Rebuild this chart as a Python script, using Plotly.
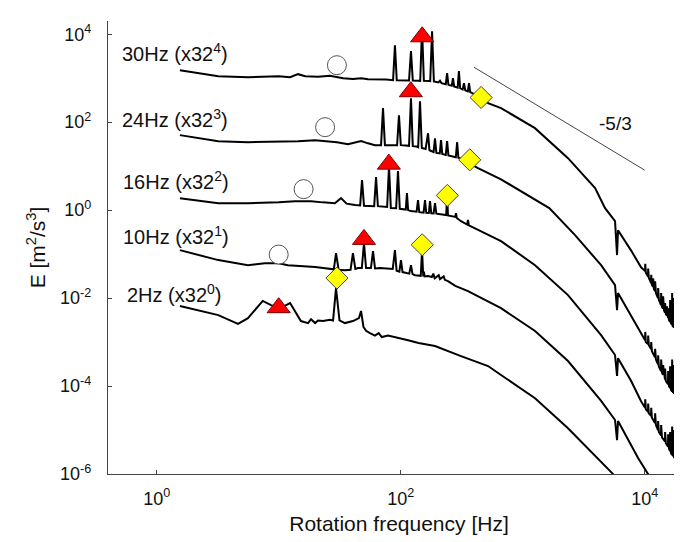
import plotly.graph_objects as go

# energy spectra as plotted (each already multiplied by 32^k, see labels)
f_30hz = [1.55, 3.2, 5.6, 8, 10, 12.4, 14.4, 16.5, 21, 26.3, 30, 33.7, 40.6, 47.3, 54, 65, 76,
          86.6, 89.7, 92.8, 110, 117, 121.4, 125.6, 140, 144.5, 149.6, 154.8, 170, 174.5, 180.7, 187,
          204, 210, 216, 234, 240, 246, 262, 268, 274, 293, 300, 307, 322, 330, 338, 355, 363, 371,
          456, 520, 664, 1260, 2350, 3920, 4730, 5710, 5930, 6040, 7740, 9330,
          10070, 10100, 10200, 10640, 10670, 10800, 11270, 11300, 11450, 11700, 11730, 11900,
          12140, 12170, 12350, 12850, 12880, 13050, 13600, 13630, 13850, 14120, 14150, 14400,
          14660, 14690, 14900, 15200, 15230, 15520, 15550, 15800, 16110, 16140, 16400,
          16740, 16770, 16900, 17060, 17090, 17400, 17430, 17720, 17750, 18050, 18080,
          18400, 18430, 18740, 18770, 19100, 19130, 19500, 19530, 19820, 19850, 20200, 20230,
          20590, 20620, 21000, 21030, 21380, 21410, 21700, 21730, 22000, 22030, 22300, 22330,
          22630, 22660, 23070, 23100, 23500]
e_30hz = [1520, 1110, 1054, 1080, 1110, 1054, 1233, 1110, 1080, 1140, 1054, 1000, 960, 1000, 949, 949, 930,
          901, 5620, 901, 890, 885, 4110, 880, 875, 870, 13700, 868, 860, 858, 11700, 840,
          800, 880, 770, 725, 1300, 705, 670, 1000, 650, 610, 1443, 590, 550, 770, 530, 500, 770, 480,
          360, 270, 208, 73, 15.2, 3.16, 1.11, 0.56, 0.095, 0.35, 0.12, 0.05,
          0.041, 0.06, 0.038, 0.031, 0.047, 0.029, 0.022, 0.034, 0.02, 0.018, 0.028, 0.016,
          0.0144, 0.024, 0.013, 0.010, 0.017, 0.0092, 0.0069, 0.013, 0.0063, 0.0058, 0.011, 0.0052,
          0.0047, 0.0077, 0.0043, 0.004, 0.0065, 0.0035, 0.0059, 0.0032, 0.0029, 0.009, 0.0027,
          0.0025, 0.013, 0.0024, 0.0022, 0.006, 0.0021, 0.01, 0.0021, 0.017, 0.0019, 0.008,
          0.0019, 0.012, 0.0019, 0.02, 0.0019, 0.009, 0.0018, 0.015, 0.0018, 0.056, 0.0018, 0.012,
          0.0018, 0.033, 0.0019, 0.01, 0.002, 0.02, 0.002, 0.014, 0.002, 0.009, 0.002, 0.025,
          0.0021, 0.035, 0.0021, 0.015, 0.0021]

f_24hz = [1.55, 3.2, 5.6, 10, 14.4, 19.9, 24, 26.8, 30, 37, 47.3, 54, 61.5,
          69, 71.6, 74.2, 85, 93.4, 96.8, 100.2, 110, 117, 121.4, 125.6, 135, 139, 143.9, 149,
          160, 167.5, 172, 186, 191, 196, 209, 214, 219, 234, 240, 246, 283, 290, 297,
          340, 363, 430, 664, 1650, 2685, 4390, 5710, 5930, 6040, 7740, 9330,
          10070, 10100, 10200, 10640, 10670, 10800, 11270, 11300, 11450, 12140, 12170, 12350,
          12850, 12880, 13050, 13600, 13630, 13850, 14120, 14150, 14400, 14660, 14690, 14900,
          15520, 15550, 15800, 16110, 16140, 16400, 16740, 16770, 17060, 17090, 17400, 17430,
          17720, 17750, 18050, 18080, 18400, 18430, 18740, 18770, 19100, 19130, 19500, 19530,
          19820, 19850, 20200, 20230, 20590, 20620, 21000, 21030, 21380, 21410, 21700, 21730,
          22000, 22030, 22300, 22330, 22630, 22660, 23070, 23100, 23500]
e_24hz = [50.7, 37, 35, 36, 37, 39, 37, 37, 35, 31.6, 37, 33, 30,
          30, 208, 30, 30, 30, 144, 30, 29.5, 29, 351, 28.5, 28, 27, 300, 26,
          24.5, 56, 23, 21, 43, 20, 19.5, 39, 19, 18, 37, 17.5, 16, 35, 15.5,
          13.5, 11.7, 9.0, 5.0, 1.11, 0.27, 0.056, 0.0197, 0.0053, 0.013, 0.0039, 0.0016,
          0.0011, 0.0017, 0.001, 0.0009, 0.0014, 0.00085, 0.0007, 0.001, 0.00062, 0.00045, 0.0007, 0.0004,
          0.00031, 0.0005, 0.00028, 0.00022, 0.0004, 0.0002, 0.00018, 0.0003, 0.00016, 0.00014, 0.00025, 0.00013,
          0.00011, 0.00022, 0.0001, 9e-5, 0.00028, 8.3e-5, 7.5e-5, 0.0004, 7e-5, 0.00019, 6.6e-5, 0.0003,
          6.3e-5, 0.0005, 6.1e-5, 0.00025, 6e-5, 0.00037, 6e-5, 0.0006, 5.9e-5, 0.00028, 5.9e-5, 0.00045,
          5.9e-5, 0.0017, 5.9e-5, 0.00037, 5.9e-5, 0.001, 6e-5, 0.0003, 6e-5, 0.0006, 6e-5, 0.00044,
          6e-5, 0.00028, 6.1e-5, 0.0008, 6.2e-5, 0.0011, 6.3e-5, 0.00047, 6.5e-5]

f_16hz = [1.55, 3.2, 5.6, 10, 13.6, 16, 18.4, 23, 28.9, 32.4, 36, 42.2,
          46.5, 48.2, 50, 60.6, 62.8, 65, 77.4, 80.2, 83, 91.7, 95, 98.3,
          105, 110, 112.5, 115, 121, 135, 138.6, 142, 154, 158.2, 162, 170, 173.8, 178,
          186, 191, 196, 215, 236, 240, 244, 280, 284, 288, 312, 350, 356, 362,
          520, 664, 1262, 2350, 4390, 5710, 5930, 6040, 7740, 9330,
          10070, 10100, 10200, 10640, 10670, 10800, 11270, 11300, 11450, 12140, 12170, 12350,
          12850, 12880, 13050, 13600, 13630, 13850, 14660, 14690, 14900, 15520, 15550, 15800,
          16110, 16140, 16400, 16740, 16770, 17060, 17090, 17400, 17430, 17720, 17750, 18050, 18080,
          18400, 18430, 18740, 18770, 19100, 19130, 19500, 19530, 19820, 19850, 20200, 20230,
          20590, 20620, 21000, 21030, 21380, 21410, 21700, 21730, 22000, 22030, 22300, 22330,
          22630, 22660, 23070, 23100, 23500]
e_16hz = [1.87, 1.44, 1.44, 1.5, 1.6, 1.6, 1.6, 1.5, 1.44, 1.87, 1.4, 1.3,
          1.28, 4.81, 1.26, 1.23, 5.62, 1.23, 1.18, 10.0, 1.12, 1.1, 7.7, 1.07,
          1.05, 1.03, 2.43, 1.0, 0.95, 0.92, 1.69, 0.9, 0.88, 1.69, 0.87, 0.86, 1.6, 0.85,
          0.84, 1.44, 0.83, 0.8, 0.77, 2.2, 0.76, 0.7, 0.85, 0.66, 0.56, 0.47, 0.6, 0.45,
          0.27, 0.197, 0.056, 0.0117, 0.00144, 0.000507, 0.00017, 0.00043, 0.00013, 4.5e-5,
          3.2e-5, 5e-5, 3e-5, 2.6e-5, 4e-5, 2.4e-5, 2.1e-5, 3.2e-5, 1.9e-5, 1.45e-5, 2.4e-5, 1.3e-5,
          1.0e-5, 1.6e-5, 9e-6, 7.5e-6, 1.3e-5, 6.8e-6, 5.5e-6, 9e-6, 5e-6, 4.2e-6, 8e-6, 3.8e-6,
          3.3e-6, 9e-6, 3e-6, 2.7e-6, 1.2e-5, 2.5e-6, 7e-6, 2.3e-6, 1e-5, 2.2e-6, 1.5e-5, 2e-6, 8e-6,
          2e-6, 1.1e-5, 1.9e-6, 1.8e-5, 1.9e-6, 8e-6, 1.8e-6, 1.4e-5, 1.8e-6, 4.6e-5, 6e-7, 1.1e-5,
          1.8e-6, 3.2e-5, 1.9e-6, 9e-6, 1.9e-6, 2e-5, 5e-7, 1.4e-5, 1.9e-6, 9e-6, 2e-6, 2.5e-5,
          2e-6, 3.7e-5, 2e-6, 1.5e-5, 2e-6]

f_10hz = [1.55, 3.2, 5.6, 7.7, 10, 11.9, 19.9, 26.8, 28.3, 29.5, 31, 34.9, 38.8, 40.6, 42.5, 44.7,
          48, 50, 52, 57, 59.3, 61.6, 67.7, 86, 89.7, 92.5, 97.5, 100.5, 103.5, 117.5, 121.4, 125,
          131, 146, 149.6, 153, 155, 157, 167.5, 180, 185, 190, 205, 210, 225, 230, 244, 280,
          356, 664, 1262, 2350, 4390, 5710, 5930, 6040, 8820, 10640, 11700]
e_10hz = [0.123, 0.073, 0.056, 0.062, 0.062, 0.056, 0.051, 0.046, 0.045, 0.105, 0.044, 0.043, 0.044, 0.105, 0.046, 0.048,
          0.048, 0.178, 0.048, 0.048, 0.117, 0.047, 0.048, 0.046, 0.123, 0.042, 0.04, 0.073, 0.039, 0.036, 0.056, 0.035,
          0.033, 0.032, 0.12, 0.031, 0.04, 0.031, 0.0316, 0.03, 0.036, 0.028, 0.033, 0.027, 0.031, 0.026, 0.0243, 0.019,
          0.0144, 0.0059, 0.00178, 0.00037, 4.6e-5, 1.69e-5, 5.9e-6, 1.6e-5, 2.3e-6, 1e-6, 6e-7]

f_2hz = [1.55, 3.2, 4.64, 5.6, 7.4, 8.65, 10.3, 12.4, 15.2, 17.4, 18.4, 19.9, 21, 23.1, 26.3,
         27.9, 29.5, 31.5, 34.9, 40.6, 45.5, 47.3, 49.5, 52, 56, 61.5, 66, 70, 78.7, 90, 100,
         115, 140, 191, 312, 520, 664, 1262, 2350, 4140, 5500, 6040]
e_2hz = [0.0066, 0.0041, 0.0026, 0.0035, 0.0086, 0.0069, 0.0059, 0.0077, 0.003, 0.0027, 0.0033, 0.0027, 0.0031, 0.003, 0.0032,
         0.0031, 0.0169, 0.0031, 0.0027, 0.003, 0.0035, 0.0051, 0.0022, 0.0018, 0.0016, 0.0014, 0.0016, 0.0013, 0.0014, 0.0013, 0.0012,
         0.0011, 0.00095, 0.00081, 0.00048, 0.000285, 0.000178, 5.3e-5, 1.1e-5, 2.3e-6, 1e-6, 6e-7]

# characteristic frequencies
circle_f = [30, 24, 16, 10]
circle_e = [1974, 77, 3.0, 0.0975]
triangle_f = [150, 121, 80, 50, 10]
triangle_e = [8730, 492, 11.1, 0.216, 0.00605]
diamond_f = [456, 368, 241, 150, 30]
diamond_e = [364, 13.9, 2.16, 0.163, 0.0285]

# -5/3 guide line
slope_f = [398, 10000]
slope_e = [1778, 8.1]

labels = ['30Hz (x32<sup>4</sup>)', '24Hz (x32<sup>3</sup>)', '16Hz (x32<sup>2</sup>)',
          '10Hz (x32<sup>1</sup>)', '2Hz (x32<sup>0</sup>)']
label_x = [-0.30, -0.30, -0.29, -0.29, -0.26]  # log10 of freq
label_y = [3.59, 2.09, 0.68, -0.57, -1.89]  # log10 of E

xtick_vals = [1, 100, 10000]
xtick_text = ['10<sup>0</sup>', '10<sup>2</sup>', '10<sup>4</sup>']
ytick_vals = [1e-6, 1e-4, 1e-2, 1, 1e2, 1e4]
ytick_text = ['10<sup>-6</sup>', '10<sup>-4</sup>', '10<sup>-2</sup>', '10<sup>0</sup>',
              '10<sup>2</sup>', '10<sup>4</sup>']

font = 'Arial, Liberation Sans, sans-serif'

fig = go.Figure()

for f, e in [(f_30hz, e_30hz), (f_24hz, e_24hz), (f_16hz, e_16hz), (f_10hz, e_10hz), (f_2hz, e_2hz)]:
    fig.add_trace(go.Scatter(x=f, y=e, mode='lines',
                             line=dict(color='black', width=2), showlegend=False))

fig.add_trace(go.Scatter(x=slope_f, y=slope_e, mode='lines',
                         line=dict(color='#444', width=1), showlegend=False))

fig.add_trace(go.Scatter(x=circle_f, y=circle_e, mode='markers', showlegend=False,
                         marker=dict(symbol='circle', size=19, color='white',
                                     line=dict(color='#555', width=1))))
fig.add_trace(go.Scatter(x=triangle_f, y=triangle_e, mode='markers', showlegend=False,
                         marker=dict(symbol='triangle-up', size=20, color='#ff0000',
                                     line=dict(color='#700', width=1))))
fig.add_trace(go.Scatter(x=diamond_f, y=diamond_e, mode='markers', showlegend=False,
                         marker=dict(symbol='diamond', size=17, color='#ffff00',
                                     line=dict(color='#444', width=1))))

for txt, lx, ly in zip(labels, label_x, label_y):
    fig.add_annotation(x=lx, y=ly, text=txt, showarrow=False, xanchor='left', yanchor='middle',
                       font=dict(family=font, size=20, color='#111'))

fig.add_annotation(x=3.76, y=1.98, text='-5/3', showarrow=False,
                   font=dict(family=font, size=19, color='#111'))

fig.update_xaxes(type='log', range=[-0.399, 4.371], tickvals=xtick_vals, ticktext=xtick_text,
                 ticks='inside', ticklen=4, tickcolor='#444', showline=True, linecolor='#444',
                 linewidth=1.2, showgrid=False, zeroline=False, ticklabelstandoff=8,
                 tickfont=dict(family=font, size=18, color='#111'),
                 title=dict(text='Rotation frequency [Hz]', standoff=8,
                            font=dict(family=font, size=21, color='#111')))
fig.update_yaxes(type='log', range=[-6, 4.3], tickvals=ytick_vals, ticktext=ytick_text,
                 ticks='inside', ticklen=4, tickcolor='#444', showline=True, linecolor='#444',
                 linewidth=1.2, showgrid=False, zeroline=False, ticklabelstandoff=12,
                 tickfont=dict(family=font, size=18, color='#111'),
                 title=dict(text='E [m<sup>2</sup>/s<sup>3</sup>]', standoff=8,
                            font=dict(family=font, size=21, color='#111')))

fig.update_layout(width=682, height=542, margin=dict(l=100, r=0, t=13, b=76),
                  plot_bgcolor='white', paper_bgcolor='white')

fig.write_html("out.html")
